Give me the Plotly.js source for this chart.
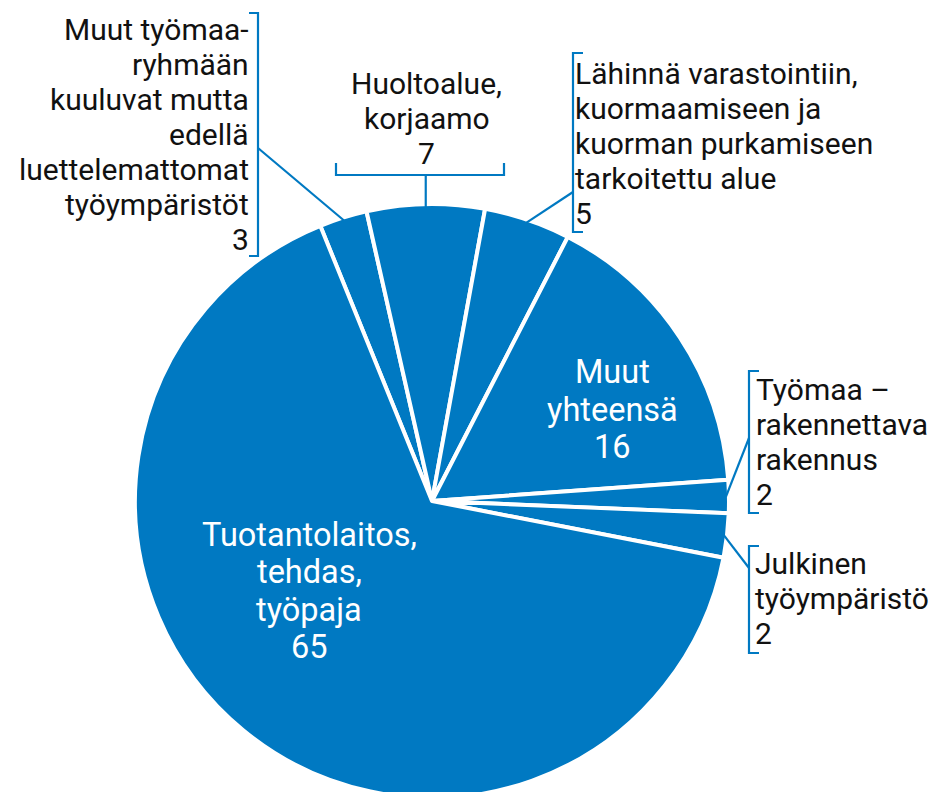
<!DOCTYPE html>
<html><head><meta charset="utf-8">
<script src="https://cdn.plot.ly/plotly-3.0.1.min.js"></script>
<style>html,body{margin:0;padding:0;overflow:hidden;background:#fff;width:933px;height:792px}#chart{width:933px;height:810px}</style>
</head><body><div id="chart"></div>
<script>
// ---- data ----
const categories = [
  "Muut työmaaryhmään kuuluvat mutta edellä luettelemattomat työympäristöt",
  "Huoltoalue, korjaamo",
  "Lähinnä varastointiin, kuormaamiseen ja kuorman purkamiseen tarkoitettu alue",
  "Muut yhteensä",
  "Työmaa – rakennettava rakennus",
  "Julkinen työympäristö",
  "Tuotantolaitos, tehdas, työpaja"
];
const labelLines = [
  ["Muut työmaa-", "ryhmään", "kuuluvat mutta", "edellä", "luettelemattomat", "työympäristöt"],
  ["Huoltoalue,", "korjaamo"],
  ["Lähinnä varastointiin,", "kuormaamiseen ja", "kuorman purkamiseen", "tarkoitettu alue"],
  ["Muut", "yhteensä"],
  ["Työmaa –", "rakennettava", "rakennus"],
  ["Julkinen", "työympäristö"],
  ["Tuotantolaitos,", "tehdas,", "työpaja"]
];
const shownValues = [3, 7, 5, 16, 2, 2, 65];
const sliceShares = [2.6, 6.4, 4.7, 16.3, 1.8, 2.4, 65.8];

// ---- layout constants ----
const W = 933, H = 810, CX = 432, CY = 501, R = 297, ROT = -22.1;
const BLUE = "#0079c2";
const OUT_FONT = 30, OUT_STEP = 35, IN_FONT = 32.5, IN_STEP = 37.5;
const px = x => x / W, py = y => 1 - y / H;

// label placement (layout only): x anchor, first baseline
const labelPos = [
  {x: 249, base: 40, xanchor: "right", inside: false,
   bracket: [[249,13],[258,13],[258,256],[249,256]], from: [258,148]},
  {x: 426.5, base: 93.3, xanchor: "center", inside: false,
   bracket: [[336,163],[336,175],[504,175],[504,163]], from: "stem", stemY: 175},
  {x: 575, base: 83.3, xanchor: "left", inside: false,
   bracket: [[583,53],[573,53],[573,232],[583,232]], from: [573,192]},
  {x: 612, base: 383.5, xanchor: "center", inside: true},
  {x: 756, base: 400, xanchor: "left", inside: false,
   bracket: [[759,371],[749,371],[749,513],[759,513]], from: [749,438]},
  {x: 755, base: 573.5, xanchor: "left", inside: false,
   bracket: [[759,546],[749,546],[749,653],[759,653]], from: [749,568]},
  {x: 309, base: 546, xanchor: "center", inside: true}
];

// mid-angle of each slice from data
const total = sliceShares.reduce((a, b) => a + b, 0);
const midAngles = [];
let acc = ROT;
sliceShares.forEach(v => { const a = v / total * 360; midAngles.push(acc + a / 2); acc += a; });
const edgePoint = (ang, r) => [CX + r * Math.sin(ang * Math.PI / 180), CY - r * Math.cos(ang * Math.PI / 180)];

const annotations = [], shapes = [];
const toPath = pts => pts.map((p, i) => (i ? "L" : "M") + px(p[0]) + "," + py(p[1])).join(" ");
labelPos.forEach((lp, i) => {
  const f = lp.inside ? IN_FONT : OUT_FONT;
  const step = lp.inside ? IN_STEP : OUT_STEP;
  const lines = labelLines[i].concat([String(shownValues[i])]);
  lines.forEach((ln, j) => {
    const baseline = lp.base + j * step;
    annotations.push({
      xref: "paper", yref: "paper", x: px(lp.x), y: py(baseline - 0.342 * f),
      xanchor: lp.xanchor, yanchor: "middle", showarrow: false,
      borderpad: 0, borderwidth: 0, text: ln,
      font: {family: "Roboto", size: f, color: lp.inside ? "#ffffff" : "#111111"}
    });
  });
  if (lp.bracket) {
    shapes.push({type: "path", xref: "paper", yref: "paper", path: toPath(lp.bracket),
      line: {color: BLUE, width: 2.2}});
    const e = edgePoint(midAngles[i], R - 3);
    const s = lp.from === "stem" ? [e[0], lp.stemY] : lp.from;
    shapes.push({type: "line", xref: "paper", yref: "paper",
      x0: px(s[0]), y0: py(s[1]), x1: px(e[0]), y1: py(e[1]),
      line: {color: BLUE, width: 2.2}});
  }
});

const trace = {
  type: "pie", labels: categories, values: sliceShares,
  sort: false, direction: "clockwise", rotation: ROT,
  textinfo: "none", hoverinfo: "label", showlegend: false,
  marker: {colors: categories.map(() => BLUE), line: {color: "#ffffff", width: 4}},
  domain: {x: [px(CX - R), px(CX + R)], y: [(H - CY - R) / H, (H - CY + R) / H]}
};

Plotly.newPlot("chart", [trace], {
  width: W, height: H, margin: {l: 0, r: 0, t: 0, b: 0},
  paper_bgcolor: "#ffffff", plot_bgcolor: "#ffffff",
  showlegend: false, font: {family: "Roboto"},
  annotations: annotations, shapes: shapes
}, {displayModeBar: false, staticPlot: true});
</script>
</body></html>
